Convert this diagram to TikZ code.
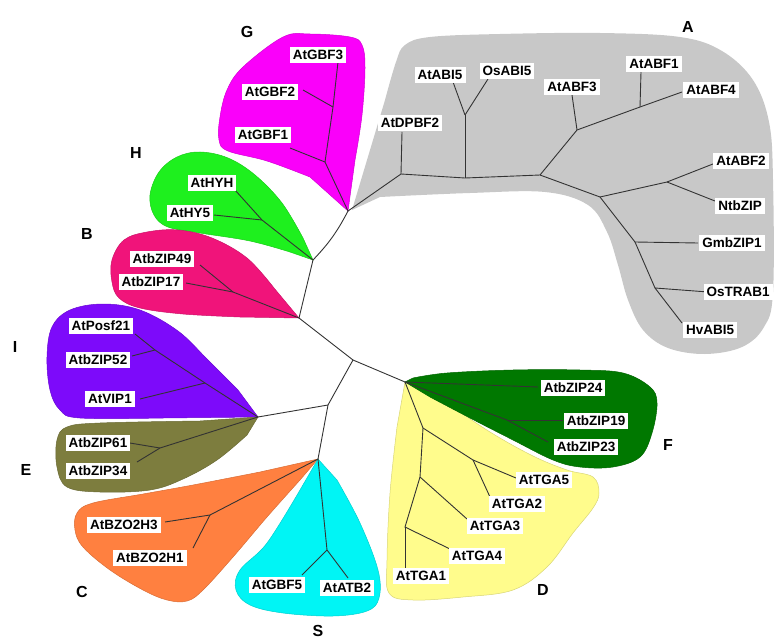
\documentclass[tikz,border=0pt]{standalone}
\usepackage{fontspec}
\setmainfont{Liberation Sans}
\definecolor{cA}{RGB}{200,200,200}
\definecolor{cG}{RGB}{250,0,250}
\definecolor{cH}{RGB}{30,240,30}
\definecolor{cB}{RGB}{240,20,122}
\definecolor{cI}{RGB}{125,10,250}
\definecolor{cE}{RGB}{125,125,62}
\definecolor{cC}{RGB}{255,128,64}
\definecolor{cS}{RGB}{0,245,245}
\definecolor{cD}{RGB}{255,252,140}
\definecolor{cF}{RGB}{0,120,0}
\tikzset{
  lab/.style={fill=white, inner xsep=3pt, inner ysep=2.5pt, text height=10pt, text depth=1pt, font=\bfseries\fontsize{13.5}{14}\selectfont},
  clade/.style={font=\bfseries\fontsize{16}{16}\selectfont},
  br/.style={draw=black!80, line width=0.9pt},
  blob/.style={fill=#1, draw=#1!85!black, line width=0.5pt}
}
\begin{document}
\begin{tikzpicture}[x=1pt,y=-1pt]
\useasboundingbox (0,0) rectangle (775,639);
% tree coordinates
\coordinate (gA) at (401,174);
\coordinate (gG) at (348,211);
\coordinate (gH) at (313,260);
\coordinate (gB) at (299,318);
\coordinate (c1) at (353,360);
\coordinate (gDF) at (405,382);
\coordinate (c2) at (328,405);
\coordinate (gIE) at (258,417);
\coordinate (gCS) at (318,459);
% A clade
\coordinate (a1) at (465,178);
\coordinate (a2) at (540,175);
\coordinate (aABI) at (465,115);
\coordinate (a3) at (577,130);
\coordinate (a4) at (640,107);
\coordinate (a5) at (600,197);
\coordinate (a6) at (667,182);
\coordinate (a7) at (635,242);
\coordinate (a8) at (655,288);
\coordinate (lDPBF2) at (402,132);
\coordinate (lAtABI5) at (453,82);
\coordinate (lOsABI5) at (488,79);
\coordinate (lAtABF3) at (572,95);
\coordinate (lAtABF1) at (641,72);
\coordinate (lAtABF4) at (682,92);
\coordinate (lAtABF2) at (718,162);
\coordinate (lNtbZIP) at (720,203);
\coordinate (lGmbZIP1) at (698,243);
\coordinate (lOsTRAB1) at (708,292);
\coordinate (lHvABI5) at (682,323);
% G
\coordinate (g1) at (325,162);
\coordinate (g2) at (333,107);
\coordinate (lAtGBF1) at (290,148);
\coordinate (lAtGBF2) at (303,90);
\coordinate (lAtGBF3) at (338,62);
% H
\coordinate (h1) at (262,220);
\coordinate (lAtHY5) at (214,215);
\coordinate (lAtHYH) at (235,190);
% B
\coordinate (b1) at (233,292);
\coordinate (lAtbZIP49) at (200,265);
\coordinate (lAtbZIP17) at (186,283);
% I
\coordinate (i1) at (205,383);
\coordinate (i2) at (155,350);
\coordinate (lAtVIP1) at (140,399);
\coordinate (lAtbZIP52) at (132,356);
\coordinate (lAtPosf21) at (135,334);
% E
\coordinate (e1) at (160,448);
\coordinate (lAtbZIP61) at (130,443);
\coordinate (lAtbZIP34) at (137,462);
% C
\coordinate (cc1) at (210,515);
\coordinate (lAtBZO2H3) at (165,522);
\coordinate (lAtBZO2H1) at (193,548);
% S
\coordinate (s1) at (327,550);
\coordinate (lAtGBF5) at (302,575);
\coordinate (lAtATB2) at (348,578);
% D
\coordinate (d1) at (423,428);
\coordinate (d2) at (473,460);
\coordinate (d3) at (420,477);
\coordinate (d4) at (405,527);
\coordinate (lAtTGA5) at (516,478);
\coordinate (lAtTGA2) at (490,497);
\coordinate (lAtTGA3) at (467,519);
\coordinate (lAtTGA4) at (452,550);
\coordinate (lAtTGA1) at (405,570);
% F
\coordinate (f1) at (507,420);
\coordinate (lAtbZIP24) at (538,387);
\coordinate (lAtbZIP19) at (563,420);
\coordinate (lAtbZIP23) at (548,442);

% shaded clade regions
\fill[cA] (352,210) -- plot[smooth, tension=0.6] coordinates {(380,197) (470,193) (545,192) (588,205) (607,232) (618,265) (628,300) (643,330) (668,348) (705,354) (742,347) (764,327) (773,292) (773,180) (769,122) (753,80) (722,51) (680,37) (600,33) (500,34) (430,37) (405,45) (396,62) (385,100)} -- cycle;
\path[blob=cG] (gG) -- plot[smooth, tension=0.6] coordinates {(355,160) (362,115) (365,68) (362,45) (350,37) (310,34) (283,37) (243,67) (227,90) (220,117) (219,140) (228,151) (267,161) (310,177)} -- cycle;
\path[blob=cH] (gH) -- plot[smooth, tension=0.6] coordinates {(303,238) (282,203) (255,175) (228,158) (200,152) (177,157) (159,172) (150,195) (154,215) (168,227) (200,233) (250,241) (290,252)} -- cycle;
\path[blob=cB] (gB) -- plot[smooth, tension=0.6] coordinates {(274,288) (247,258) (212,238) (178,230) (147,232) (124,240) (112,260) (112,282) (119,298) (140,308) (183,314) (240,317)} -- cycle;
\path[blob=cI] (gIE) -- plot[smooth, tension=0.6] coordinates {(238,390) (208,360) (178,331) (140,310) (103,304) (70,310) (52,327) (47,357) (50,390) (60,410) (80,418) (163,418)} -- cycle;
\path[blob=cE] (gIE) -- plot[smooth, tension=0.6] coordinates {(247,435) (217,460) (183,479) (150,490) (100,492) (67,487) (57,467) (57,440) (67,427) (100,423) (200,421)} -- cycle;
\path[blob=cC] (gCS) -- plot[smooth, tension=0.6] coordinates {(300,480) (267,517) (233,557) (203,590) (187,601) (167,600) (143,590) (110,570) (83,547) (75,530) (77,513) (93,503) (143,494) (193,485) (260,472)} -- cycle;
\path[blob=cS] (gCS) -- plot[smooth, tension=0.6] coordinates {(337,480) (360,523) (378,570) (379,598) (367,611) (333,616) (283,613) (250,605) (236,590) (240,570) (267,543) (300,490)} -- cycle;
\path[blob=cD] (gDF) -- plot[smooth, tension=0.6] coordinates {(447,403) (490,432) (533,456) (567,470) (593,477) (599,493) (593,508) (573,533) (547,567) (513,590) (463,597) (413,600) (389,593) (387,560) (390,493) (397,427)} -- cycle;
\path[blob=cF] (gDF) -- plot[smooth, tension=0.6] coordinates {(413,378) (447,373) (513,370) (580,370) (623,373) (650,387) (657,403) (652,433) (640,457) (613,467) (580,467) (553,460) (513,440) (470,418) (430,397)} -- cycle;

% backbone
\draw[br] (gG) -- (gA);
\draw[br] (gG) to[bend left=8] (gH);
\draw[br] (gH) -- (gB);
\draw[br] (gB) -- (c1);
\draw[br] (c1) -- (gDF);
\draw[br] (c1) -- (c2);
\draw[br] (c2) -- (gIE);
\draw[br] (c2) -- (gCS);
% A
\draw[br] (gA) -- (lDPBF2);
\draw[br] (gA) -- (a1) -- (a2);
\draw[br] (a1) -- (aABI);
\draw[br] (aABI) -- (lAtABI5);
\draw[br] (aABI) -- (lOsABI5);
\draw[br] (a2) -- (a3) -- (a4) -- (lAtABF4);
\draw[br] (a3) -- (lAtABF3);
\draw[br] (a4) -- (lAtABF1);
\draw[br] (a2) -- (a5) -- (a6) -- (lAtABF2);
\draw[br] (a6) -- (lNtbZIP);
\draw[br] (a5) -- (a7) -- (lGmbZIP1);
\draw[br] (a7) -- (a8) -- (lOsTRAB1);
\draw[br] (a8) -- (lHvABI5);
% G
\draw[br] (gG) -- (g1) -- (g2) -- (lAtGBF3);
\draw[br] (g1) -- (lAtGBF1);
\draw[br] (g2) -- (lAtGBF2);
% H
\draw[br] (gH) -- (h1) -- (lAtHYH);
\draw[br] (h1) -- (lAtHY5);
% B
\draw[br] (gB) -- (b1) -- (lAtbZIP49);
\draw[br] (b1) -- (lAtbZIP17);
% I
\draw[br] (gIE) -- (i1) -- (i2) -- (lAtPosf21);
\draw[br] (i1) -- (lAtVIP1);
\draw[br] (i2) -- (lAtbZIP52);
% E
\draw[br] (gIE) -- (e1) -- (lAtbZIP61);
\draw[br] (e1) -- (lAtbZIP34);
% C
\draw[br] (gCS) -- (cc1) -- (lAtBZO2H3);
\draw[br] (cc1) -- (lAtBZO2H1);
% S
\draw[br] (gCS) -- (s1) -- (lAtGBF5);
\draw[br] (s1) -- (lAtATB2);
% D
\draw[br] (gDF) -- (d1) -- (d2) -- (lAtTGA5);
\draw[br] (d2) -- (lAtTGA2);
\draw[br] (d1) -- (d3) -- (lAtTGA3);
\draw[br] (d3) -- (d4) -- (lAtTGA4);
\draw[br] (d4) -- (lAtTGA1);
% F
\draw[br] (gDF) -- (lAtbZIP24);
\draw[br] (gDF) -- (f1) -- (lAtbZIP23);
\draw[br] (f1) -- (lAtbZIP19);

% leaf labels
\node[lab] (nDPBF2) at (410,123) {AtDPBF2};
\node[lab] (nAtABI5) at (440,75) {AtABI5};
\node[lab] (nOsABI5) at (507,71) {OsABI5};
\node[lab] (nAtABF3) at (572,87) {AtABF3};
\node[lab] (nAtABF1) at (654,64) {AtABF1};
\node[lab] (nAtABF4) at (711,90) {AtABF4};
\node[lab] (nAtABF2) at (741,161) {AtABF2};
\node[lab] (nNtbZIP) at (740,206) {NtbZIP};
\node[lab] (nGmbZIP1) at (732,243) {GmbZIP1};
\node[lab] (nOsTRAB1) at (738,292) {OsTRAB1};
\node[lab] (nHvABI5) at (710,330) {HvABI5};
\node[lab] (nAtGBF3) at (318,55) {AtGBF3};
\node[lab] (nAtGBF2) at (270,92) {AtGBF2};
\node[lab] (nAtGBF1) at (263,135) {AtGBF1};
\node[lab] (nAtHYH) at (212,183) {AtHYH};
\node[lab] (nAtHY5) at (190,213) {AtHY5};
\node[lab] (nAtbZIP49) at (162,259) {AtbZIP49};
\node[lab] (nAtbZIP17) at (151,282) {AtbZIP17};
\node[lab] (nAtPosf21) at (101,326) {AtPosf21};
\node[lab] (nAtbZIP52) at (98,360) {AtbZIP52};
\node[lab] (nAtVIP1) at (110,399) {AtVIP1};
\node[lab] (nAtbZIP61) at (98,443) {AtbZIP61};
\node[lab] (nAtbZIP34) at (98,471) {AtbZIP34};
\node[lab] (nAtBZO2H3) at (124,525) {AtBZO2H3};
\node[lab] (nAtBZO2H1) at (150,558) {AtBZO2H1};
\node[lab] (nAtGBF5) at (277,585) {AtGBF5};
\node[lab] (nAtATB2) at (347,588) {AtATB2};
\node[lab] (nAtTGA5) at (544,480) {AtTGA5};
\node[lab] (nAtTGA2) at (517,504) {AtTGA2};
\node[lab] (nAtTGA3) at (495,526) {AtTGA3};
\node[lab] (nAtTGA4) at (477,556) {AtTGA4};
\node[lab] (nAtTGA1) at (421,576) {AtTGA1};
\node[lab] (nAtbZIP24) at (573,388) {AtbZIP24};
\node[lab] (nAtbZIP19) at (596,421) {AtbZIP19};
\node[lab] (nAtbZIP23) at (586,447) {AtbZIP23};

% clade letters
\node[clade] (LA) at (688,27) {A};
\node[clade] (LG) at (247,32) {G};
\node[clade] (LH) at (136,153) {H};
\node[clade] (LB) at (87,234) {B};
\node[clade] (LI) at (15,347) {I};
\node[clade] (LE) at (26,470) {E};
\node[clade] (LC) at (82,592) {C};
\node[clade] (LS) at (318,631) {S};
\node[clade] (LD) at (543,590) {D};
\node[clade] (LF) at (668,445) {F};
\end{tikzpicture}
\end{document}
